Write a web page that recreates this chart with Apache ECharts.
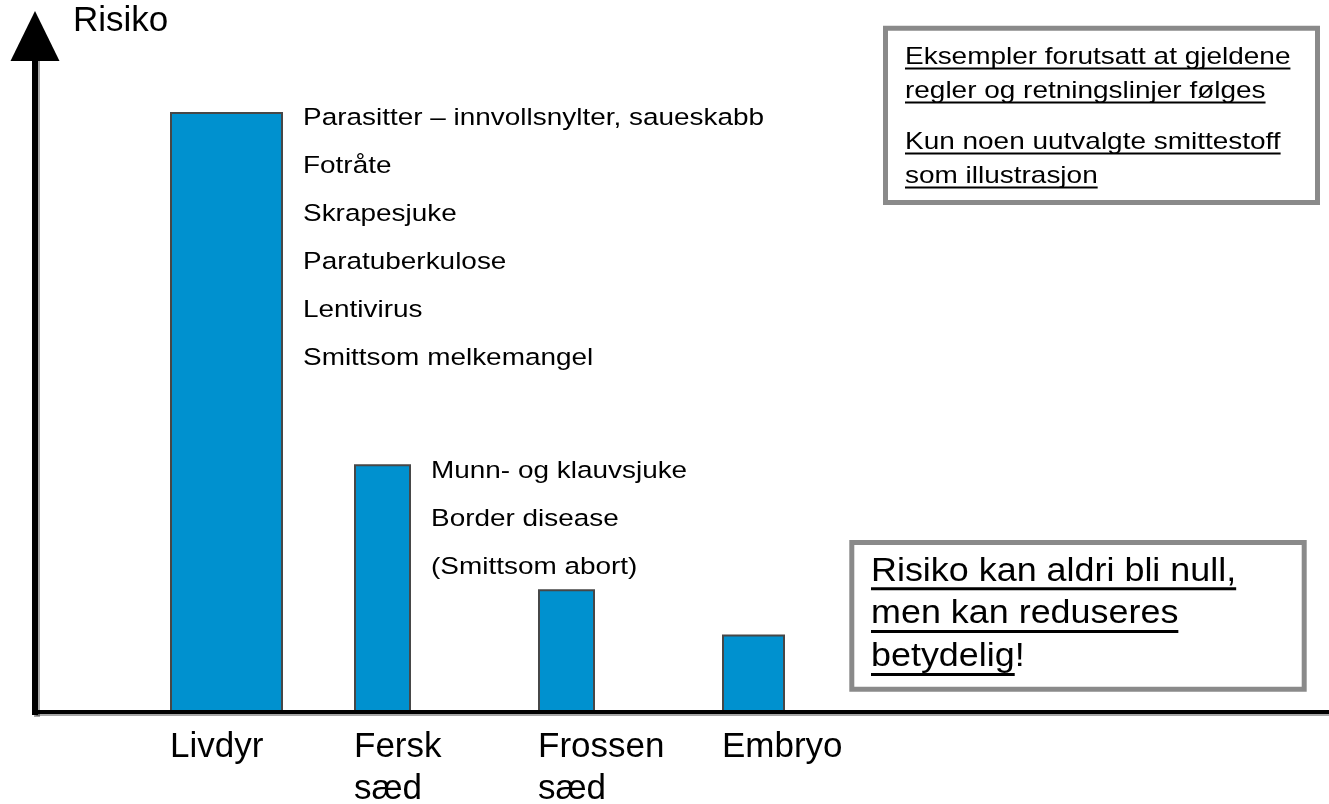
<!DOCTYPE html>
<html>
<head>
<meta charset="utf-8">
<script src="https://cdn.jsdelivr.net/npm/echarts@6/dist/echarts.min.js"></script>
<style>
html,body{margin:0;padding:0;background:#ffffff;}
#main{width:1329px;height:804px;}
</style>
</head>
<body>
<div id="main"></div>
<script>
// ---------------- data ----------------
const categories = ['Livdyr', 'Fersk sæd', 'Frossen sæd', 'Embryo'];
const riskValues = [88.6, 36.5, 18.0, 11.3];
const diseaseLists = [
  ['Parasitter – innvollsnylter, saueskabb', 'Fotråte', 'Skrapesjuke', 'Paratuberkulose', 'Lentivirus', 'Smittsom melkemangel'],
  ['Munn- og klauvsjuke', 'Border disease', '(Smittsom abort)'],
  [],
  []
];
const axisTitle = 'Risiko';
const noteParagraphs = [
  ['Eksempler forutsatt at gjeldene', 'regler og retningslinjer følges'],
  ['Kun noen uutvalgte smittestoff', 'som illustrasjon']
];
const messageLines = ['Risiko kan aldri bli null,', 'men kan reduseres', 'betydelig'];
const messageTail = '!';

// ---------------- styles ----------------
const FONT = '"Liberation Sans", Arial, Helvetica, sans-serif';
const BAR_FILL = '#0091cf';
const BAR_STROKE = '#474747';
const BOX_STROKE = '#8a8a8a';
const barWidthsPx = [113, 57, 57, 63];
const MID = 0.33; // canvas 'middle' -> alphabetic baseline offset (em)

const mctx = document.createElement('canvas').getContext('2d');
function textWidth(str, fs) {
  mctx.font = fs + 'px ' + FONT;
  return mctx.measureText(str).width;
}

function textLine(str, x, baseline, fs, sx) {
  return {
    type: 'text', x: x, y: baseline - MID * fs, scaleX: sx, z: 10,
    style: { text: str, fontFamily: FONT, fontSize: fs, fill: '#000', align: 'left', verticalAlign: 'middle' }
  };
}
function underline(str, x, baseline, fs, sx, off, th) {
  return {
    type: 'rect', z: 10,
    shape: { x: x, y: baseline + off, width: textWidth(str, fs) * sx, height: th },
    style: { fill: '#000' }
  };
}

const graphics = [];
// axis title
graphics.push(textLine(axisTitle, 73, 33, 35, 1));

// note box (top right)
graphics.push({ type: 'rect', z: 9, shape: { x: 885.5, y: 28.2, width: 432, height: 174.3 },
  style: { fill: '#fff', stroke: BOX_STROKE, lineWidth: 5 } });
const noteBaselines = [[65, 99], [150, 184]];
noteParagraphs.forEach((para, p) => {
  para.forEach((line, l) => {
    const b = noteBaselines[p][l];
    graphics.push(textLine(line, 905, b, 24, 1.165));
    graphics.push(underline(line, 905, b, 24, 1.165, 2.5, 2));
  });
});

// message box (bottom right)
graphics.push({ type: 'rect', z: 9, shape: { x: 851.8, y: 542.5, width: 452.4, height: 146.7 },
  style: { fill: '#fff', stroke: BOX_STROKE, lineWidth: 5 } });
const msgBaselines = [582.3, 625, 668];
messageLines.forEach((line, l) => {
  const b = msgBaselines[l];
  graphics.push(textLine(line, 871, b, 33, 1.088));
  graphics.push(underline(line, 871, b, 33, 1.088, 5, 3));
});
graphics.push(textLine(messageTail, 871 + textWidth(messageLines[2], 33) * 1.088, msgBaselines[2], 33, 1.088));

// ---------------- chart ----------------
const chart = echarts.init(document.getElementById('main'), null, { renderer: 'canvas' });

const axisShadow = { shadowColor: 'rgba(0,0,0,0.35)', shadowOffsetX: 2, shadowOffsetY: 2, shadowBlur: 0 };

const option = {
  animation: false,
  backgroundColor: '#ffffff',
  grid: [
    { left: 35, right: 0, top: 36, bottom: 92, containLabel: false, outerBoundsMode: 'none' },
    { left: 170, right: 607, top: 36, bottom: 92, containLabel: false, outerBoundsMode: 'none' }
  ],
  xAxis: [
    {
      gridIndex: 0, type: 'value', min: 0, max: 1, z: 5,
      axisLine: { show: true, lineStyle: Object.assign({ color: '#000', width: 4 }, axisShadow) },
      axisTick: { show: false }, axisLabel: { show: false }, splitLine: { show: false }
    },
    {
      gridIndex: 1, type: 'category', data: categories, boundaryGap: false,
      axisLine: { show: false }, axisTick: { show: false }, splitLine: { show: false },
      axisLabel: {
        interval: 0, margin: 14, align: 'left', color: '#000',
        fontFamily: FONT, fontSize: 35, lineHeight: 42,
        formatter: (v) => v.replace(' ', '\n')
      }
    }
  ],
  yAxis: [
    {
      gridIndex: 0, type: 'value', min: 0, max: 100, z: 5,
      axisLine: {
        show: true, symbol: ['none', 'triangle'], symbolSize: [49, 50],
        lineStyle: Object.assign({ color: '#000', width: 6, cap: 'square' }, axisShadow)
      },
      axisTick: { show: false }, axisLabel: { show: false }, splitLine: { show: false }
    },
    { gridIndex: 1, type: 'value', min: 0, max: 100, show: false, splitLine: { show: false } }
  ],
  graphic: graphics,
  series: [
    {
      type: 'custom',
      xAxisIndex: 1, yAxisIndex: 1,
      clip: false,
      z: 2,
      data: riskValues.map((v, i) => [i, v]),
      encode: { x: 0, y: 1 },
      renderItem: function (params, api) {
        const i = api.value(0);
        const top = api.coord([i, api.value(1)]);
        const base = api.coord([i, 0]);
        const w = barWidthsPx[i];
        const left = top[0];
        const children = [{
          type: 'rect',
          shape: { x: left + 1, y: top[1], width: w - 2, height: base[1] - top[1] },
          style: { fill: BAR_FILL, stroke: BAR_STROKE, lineWidth: 2 }
        }];
        const lines = diseaseLists[i];
        if (lines.length) {
          const fs = 24.5, lh = 48;
          children.push({
            type: 'text',
            x: left + w + 20,
            y: top[1] + 13.7 - lh / 2 - MID * fs,
            scaleX: 1.14,
            style: {
              text: lines.join('\n'), fontFamily: FONT, fontSize: fs, lineHeight: lh,
              fill: '#000', align: 'left', verticalAlign: 'top'
            }
          });
        }
        return { type: 'group', children: children };
      }
    }
  ]
};
chart.setOption(option);
</script>
</body>
</html>
